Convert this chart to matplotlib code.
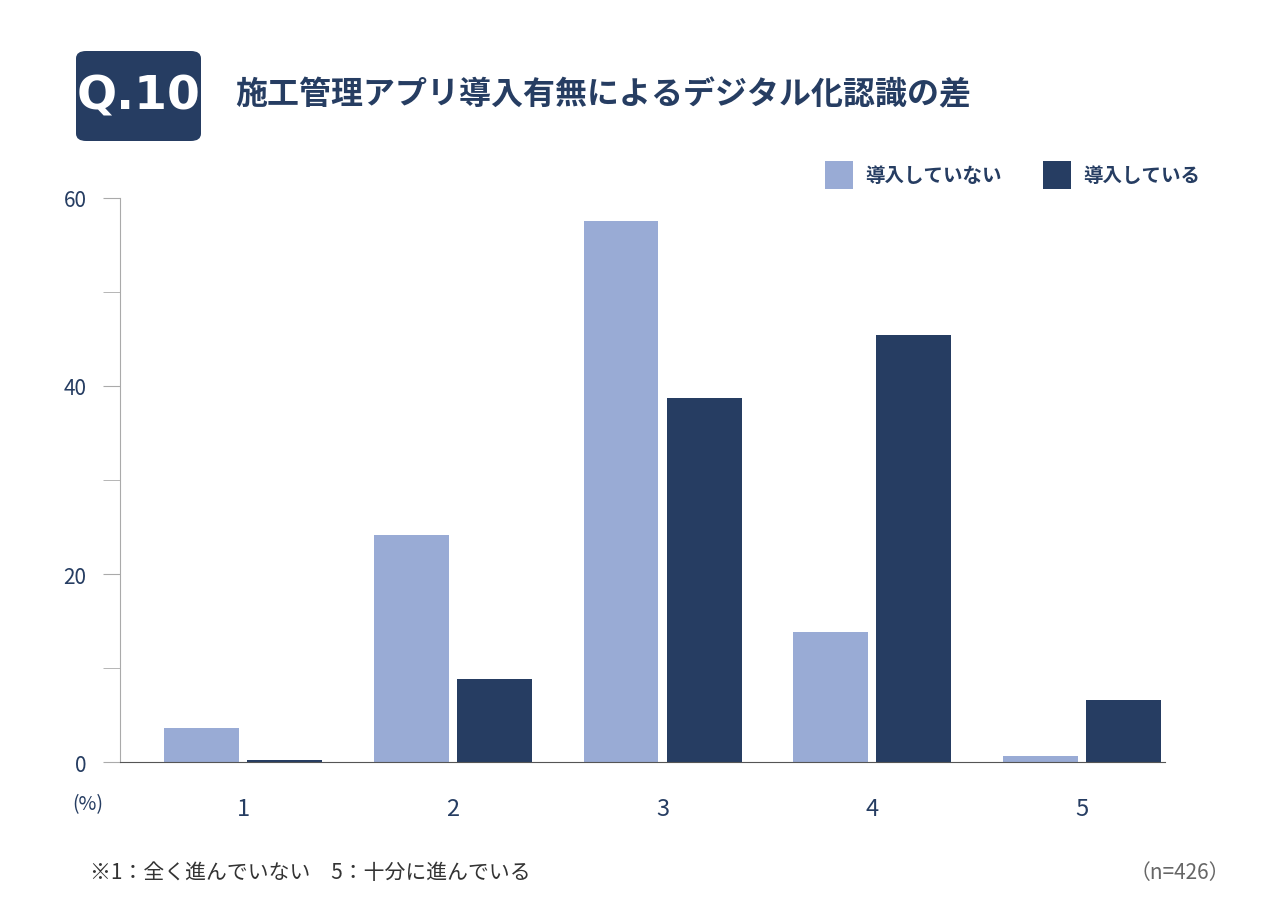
import matplotlib
matplotlib.use("Agg")
import matplotlib.pyplot as plt
from matplotlib.patches import FancyBboxPatch, Rectangle
import numpy as np

plt.rcParams['font.family'] = ['Noto Sans CJK JP', 'DejaVu Sans']

categories = ["1", "2", "3", "4", "5"]
not_introduced = [3.6, 24.1, 57.6, 13.8, 0.6]
introduced = [0.2, 8.8, 38.7, 45.4, 6.6]
series_names = ["導入していない", "導入している"]

LIGHT = "#99abd5"
DARK = "#263d62"
GRAY = "#888888"

fig = plt.figure(figsize=(12.8, 9.2), dpi=100)
ax = fig.add_axes([120/1280, 1-763/920, (1165-120)/1280, (763-199)/920])
x = np.arange(len(categories))
w = 0.357
ax.bar(x - 0.198, not_introduced, w, color=LIGHT)
ax.bar(x + 0.198, introduced, w, color=DARK)
ax.set_xlim(-0.586, 4.395)
ax.set_ylim(0, 60)
ax.set_yticks([0, 20, 40, 60])
ax.set_yticks([10, 30, 50], minor=True)
ax.set_xticks(x)
ax.set_xticklabels(categories)
for s in ["top", "right"]:
    ax.spines[s].set_visible(False)
ax.spines["left"].set_color("#aaaaaa")
ax.spines["bottom"].set_color("#555555")
ax.tick_params(axis="y", which="both", direction="out", length=12, color="#aaaaaa",
               labelsize=15, labelcolor=DARK, pad=12)
ax.tick_params(axis="x", length=0, labelsize=17, labelcolor=DARK, pad=25)

fig.text(88/1280, 1-805/920, "(%)", fontsize=14, color=DARK, ha="center", va="center")

# Title box
fig.patches.append(FancyBboxPatch((76/1280, 1-142/920), 125/1280, 90/920,
                   boxstyle="round,pad=0,rounding_size=0.008", transform=fig.transFigure,
                   facecolor=DARK, edgecolor="none"))
fig.text(139/1280, 1-97/920, "Q.10", fontsize=34, fontweight="bold", color="white",
         ha="center", va="center", family=["DejaVu Sans"])
fig.text(235/1280, 1-95/920, "施工管理アプリ導入有無によるデジタル化認識の差", fontsize=23,
         fontweight="bold", color=DARK, ha="left", va="center")

# Legend
for px, col, name in [(825, LIGHT, series_names[0]), (1043, DARK, series_names[1])]:
    fig.patches.append(Rectangle((px/1280, 1-190/920), 28/1280, 28/920,
                       transform=fig.transFigure, facecolor=col, edgecolor="none"))
    fig.text((px+40)/1280, 1-177/920, name, fontsize=14, fontweight="bold", color=DARK,
             ha="left", va="center")

fig.text(90/1280, 1-873/920, "※1：全く進んでいない　5：十分に進んでいる", fontsize=15,
         color="#333333", ha="left", va="center")
fig.text(1230/1280, 1-873/920, "（n=426）", fontsize=15, color="#666666", ha="right", va="center")

fig.savefig("out.png", dpi=100, facecolor="white")
